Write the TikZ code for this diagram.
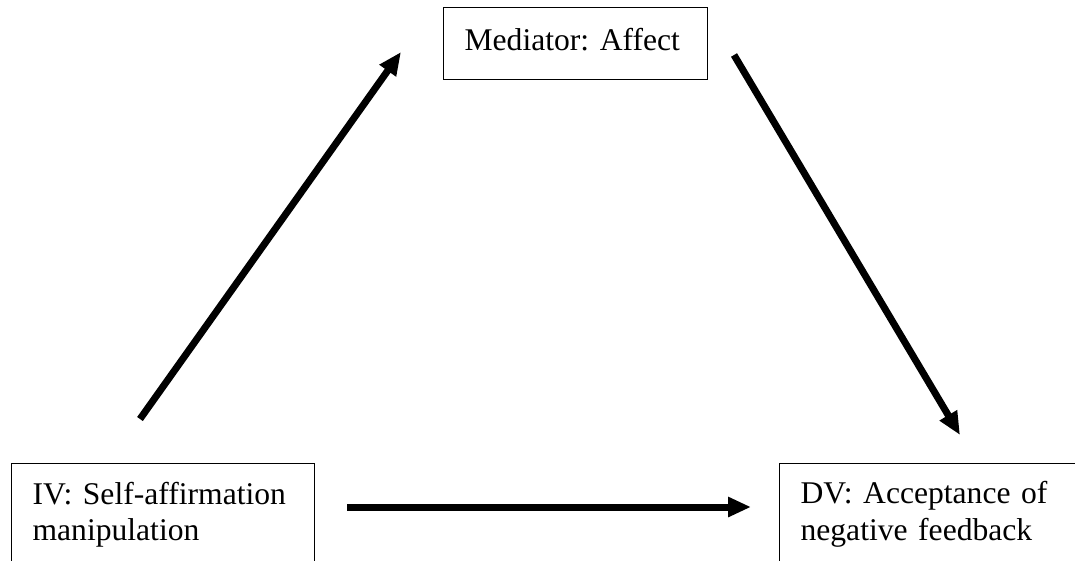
\documentclass[tikz,border=0pt]{standalone}
\usepackage{fontspec}
\setmainfont{Liberation Serif}[Ligatures=NoCommon]
\usepackage{tikz}
\usetikzlibrary{positioning, calc}
\usetikzlibrary{arrows.meta}
\frenchspacing

\begin{document}
\begin{tikzpicture}[x=1pt,y=-1pt,
            varbox/.style={draw, line width=1.2pt, anchor=north west, align=left,
                inner xsep=21pt, font=\fontsize{31.6}{36.7}\selectfont},
            link/.style={line width=7pt, -{Triangle[length=23pt,width=19pt]}}]
            \useasboundingbox (0,0) rectangle (1075,560);
            % boxes
            \node[varbox, text width=222pt, minimum height=72pt, text depth=8pt] (med) at (443,7) {Mediator: Affect};
            \node[varbox, text width=261pt, minimum height=102pt] (iv) at (11,463) {IV: Self-affirmation\\manipulation};
            \node[varbox, text width=259pt, minimum height=102pt] (dv) at (779,463) {DV: Acceptance of\\negative feedback};
            % arrow ends
            \coordinate (ivup) at (140,419);
            \coordinate (medin) at (401,52);
            \coordinate (medout) at (734,55);
            \coordinate (dvup) at (960,435);
            \coordinate (ivright) at (347,507);
            \coordinate (dvleft) at (751,507);
            \draw[link] (ivup) -- (medin);
            \draw[link] (medout) -- (dvup);
            \draw[link] (ivright) -- (dvleft);
        \end{tikzpicture}
\end{document}
